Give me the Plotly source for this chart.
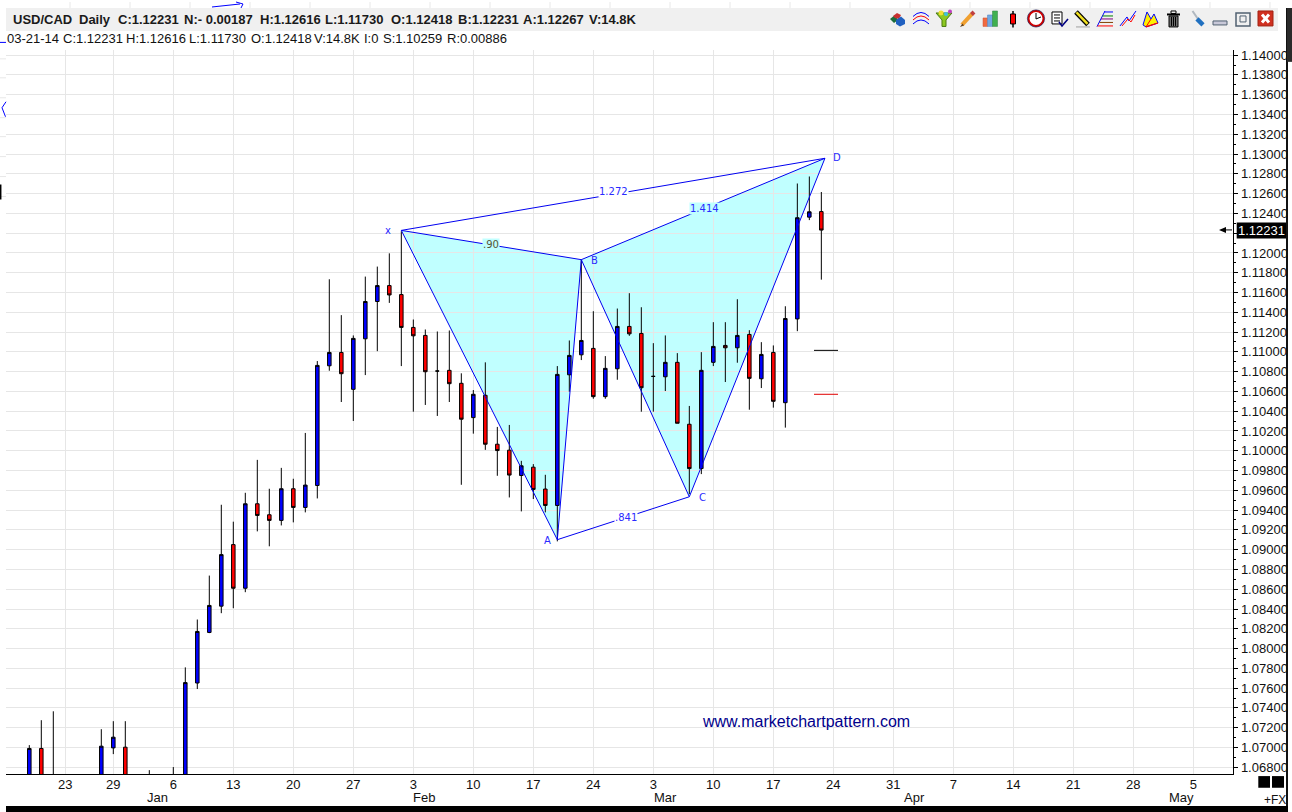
import plotly.graph_objects as go

# ---------- candles (one entry per bar slot on the chart) ----------
bar_index = [0,1,2,6,7,8,10,12,13,14,15,16,17,18,19,20,21,22,23,24,25,26,27,28,29,30,31,32,33,34,35,36,37,38,39,40,41,42,43,44,45,46,47,48,49,50,51,52,53,54,55,56,57,58,59,60,61,62,63,64,65,66]
opens = [1.0660,1.06990,1.0665,1.0660,1.06996,1.07003,1.0660,1.0660,1.0660,1.07652,1.08163,1.08429,1.09051,1.0861,1.09464,1.09353,1.09296,1.09616,1.09427,1.09649,1.10859,1.10994,1.10621,1.11132,1.11509,1.1167,1.11579,1.11247,1.11166,1.10806,1.10813,1.10682,1.10335,1.10561,1.10066,1.10006,1.0975,1.09834,1.09613,1.09447,1.10768,1.1097,1.11035,1.10547,1.10829,1.11257,1.11186,1.10752,1.10748,1.10894,1.10268,1.0982,1.10894,1.11065,1.11041,1.11176,1.10728,1.10994,1.10486,1.11333,1.12362,1.12418]
highs = [1.07024,1.07276,1.07366,1.07185,1.07266,1.07266,1.06771,1.06802,1.0781,1.08294,1.08738,1.09454,1.09283,1.09575,1.09908,1.09616,1.09827,1.09717,1.1018,1.10907,1.11734,1.11371,1.11166,1.11761,1.11862,1.11996,1.12218,1.11327,1.11226,1.11206,1.11216,1.10783,1.10614,1.10894,1.10241,1.10261,1.09898,1.09865,1.09757,1.10856,1.11115,1.11932,1.11411,1.10957,1.11438,1.11593,1.11451,1.11088,1.11166,1.10987,1.10453,1.10997,1.113,1.113,1.11532,1.11219,1.11098,1.11065,1.11461,1.12702,1.12773,1.12616]
lows = [1.0650,1.0650,1.0655,1.0650,1.06933,1.0650,1.0650,1.0650,1.0650,1.07591,1.08156,1.08358,1.08408,1.0857,1.09185,1.09034,1.09245,1.09276,1.09377,1.09518,1.10809,1.10493,1.10301,1.10765,1.11007,1.11495,1.10856,1.10395,1.10463,1.10352,1.10493,1.09656,1.10173,1.10009,1.09747,1.09528,1.09387,1.09512,1.09377,1.09084,1.10597,1.10917,1.10526,1.10526,1.10718,1.11162,1.10395,1.10395,1.10604,1.10278,1.09562,1.09764,1.10856,1.10695,1.1089,1.10415,1.10634,1.10436,1.10234,1.11209,1.12332,1.1173]
closes = [1.06990,1.0660,1.0660,1.07013,1.07104,1.0660,1.0655,1.0655,1.07656,1.08173,1.08436,1.0895,1.0861,1.09464,1.09346,1.09296,1.09616,1.09427,1.09653,1.10863,1.10994,1.10779,1.11136,1.11509,1.1167,1.11575,1.11247,1.11162,1.10799,1.10806,1.10678,1.10319,1.10571,1.10066,1.10002,1.09754,1.09848,1.09609,1.09447,1.10772,1.10964,1.11115,1.10547,1.10833,1.11257,1.11182,1.10637,1.10752,1.10894,1.10278,1.0982,1.10813,1.11055,1.11041,1.11166,1.10732,1.10974,1.105,1.11337,1.12356,1.12416,1.12231]

# ---------- harmonic pattern ----------
pattern_names = ["X","A","B","C","D"]
pattern_x = [31,44,46,55,66.3]
pattern_y = [1.12228,1.09101,1.11932,1.09535,1.12957]
ratio_labels = ["1.272",".90","1.414",".841"]
ratio_x = [48.64,38.5,56.3,49.7]
ratio_y = [1.1262,1.12087,1.1245,1.09323]
ratio_bg = ["#ffffff","#c0ffff","#c0ffff","#ffffff"]
ratio_col = ["#2a2aff","#555533","#2a2aff","#2a2aff"]
point_labels = ["x","A","B","C","D"]
point_label_x = [29.9,43.2,47.1,56.1,67.3]
point_label_y = [1.1223,1.0909,1.1192,1.0953,1.12965]

# ---------- levels ----------
level_x = [65.39,67.39]
level_black = 1.11015
level_red = 1.10571

# ---------- axes ----------
x_tick_pos = [3,7,12,17,22,27,32,37,42,47,52,57,62,67,72,77,82,87,92,97]
x_tick_text = ["23","29","6","13","20","27","3","10","17","24","3","10","17","24","31","7","14","21","28","5"]
month_pos = [10.7,32.9,53.0,73.8,96.0]
month_text = ["Jan","Feb","Mar","Apr","May"]
y_tick_pos = [1.14,1.138,1.136,1.134,1.132,1.13,1.128,1.126,1.124,1.122,1.12,1.118,1.116,1.114,1.112,1.11,1.108,1.106,1.104,1.102,1.10,1.098,1.096,1.094,1.092,1.09,1.088,1.086,1.084,1.082,1.08,1.078,1.076,1.074,1.072,1.07,1.068]
y_tick_text = ["1.14000","1.13800","1.13600","1.13400","1.13200","1.13000","1.12800","1.12600","1.12400","","1.12000","1.11800","1.11600","1.11400","1.11200","1.11000","1.10800","1.10600","1.10400","1.10200","1.10000","1.09800","1.09600","1.09400","1.09200","1.09000","1.08800","1.08600","1.08400","1.08200","1.08000","1.07800","1.07600","1.07400","1.07200","1.07000","1.06800"]
last_close = 1.12231

header_x = [11,77,116,182,258,323,389,456,521,587]
header_text = ["USD/CAD","Daily","C:1.12231","N:- 0.00187","H:1.12616","L:1.11730","O:1.12418","B:1.12231","A:1.12267","V:14.8K"]
info_x = [5,61,124,187,249,312,362,381,445]
info_text = ["03-21-14","C:1.12231","H:1.12616","L:1.11730","O:1.12418","V:14.8K","I:0","S:1.10259","R:0.00886"]

W, H = 1292, 812
FONT = "Liberation Sans, Arial, sans-serif"
px = lambda v: v / W
py = lambda v: 1 - v / H

shapes = []
def R(x0, y0, x1, y1, fill=None, line=None, w=1):
    shapes.append(dict(type="rect", xref="paper", yref="paper", x0=px(x0), x1=px(x1), y0=py(y0), y1=py(y1),
                       fillcolor=fill or "rgba(0,0,0,0)", line=dict(color=line or "rgba(0,0,0,0)", width=w if line else 0)))
def L(pts, color="rgba(0,0,0,0)", w=1, fill=None):
    d = "M" + " L".join(f"{px(a):.5f},{py(b):.5f}" for a, b in pts)
    if fill:
        d += " Z"
    shapes.append(dict(type="path", xref="paper", yref="paper", path=d, fillcolor=fill or "rgba(0,0,0,0)",
                       line=dict(color=color, width=w if color != "rgba(0,0,0,0)" else 0)))
def C(cx, cy, r, fill=None, line=None, w=1):
    shapes.append(dict(type="circle", xref="paper", yref="paper", x0=px(cx-r), x1=px(cx+r), y0=py(cy+r), y1=py(cy-r),
                       fillcolor=fill or "rgba(0,0,0,0)", line=dict(color=line or "rgba(0,0,0,0)", width=w if line else 0)))

# pattern fills sit beneath the candles
def fill_path(i, j, k):
    return (f"M{pattern_x[i]},{pattern_y[i]} L{pattern_x[j]},{pattern_y[j]} L{pattern_x[k]},{pattern_y[k]} Z")
for tri in [(0,1,2),(2,3,4)]:
    shapes.append(dict(type="path", xref="x", yref="y", layer="below", path=fill_path(*tri),
                       fillcolor="#c0ffff", line=dict(width=0)))

# window chrome
R(6, 6, 1278, 29, fill="#f0f0f0")
R(1286, 6, 1288, 812, fill="#111111")
R(1287, 6, 1292, 60, fill="#2a2a2a")
R(6, 806, 1288, 812, fill="#000000")
R(1258.3, 776, 1270, 787.7, fill="#000000")
R(1272, 776, 1284, 787.7, fill="#000000")

# clipped remains at the edges
for yy in [57, 76, 96, 116, 135, 155, 175, 195]:
    L([(0, yy), (6, yy)], "#e8e8e8", 1)
for xx in [70, 130, 190, 250, 310, 370, 430, 490, 550, 610, 670, 730, 790, 850, 910, 970, 1030, 1090, 1150, 1210, 1270]:
    L([(xx, 0), (xx, 6)], "#e8e8e8", 1)
L([(212, 5), (240, 2)], "#0000ff", 1)
L([(236, 0), (243, 2), (241, 6)], "#0000ff", 1)
L([(0, 40.5), (6, 40.5)], "#0000ff", 1)
L([(6, 100), (2, 106), (5.5, 115)], "#0000ff", 1)
L([(0.7, 183), (0.7, 198)], "#000000", 1.5)

# toolbar icons
L([(890,17),(895,13),(898,18),(894,21)], fill="#1c6e3c")
L([(893,14),(897,11),(901,13),(899,17),(895,16)], fill="#c83030")
L([(896,18),(901,14.5),(905,18),(905,22),(900,24.5),(896,22)], fill="#2060c0")
for base, colr in [(14.5,"#0000ff"),(18,"#ff0000"),(22,"#0000ff")]:
    L([(913,base),(917,base-3),(921,base-4),(925,base-3),(929,base)], colr, 1)
L([(936,11),(952,11),(946,18),(946,24.5),(942,24.5),(942,18)], "#4a7a10", 1, "#8cc820")
C(941,11,2.5,fill="#f0e030"); C(946,12,2,fill="#40c0e0"); C(950,9.5,2,fill="#c040c0")
L([(962,23),(972,12)], "#f0a030", 4)
L([(971.5,12.5),(974,10)], "#c04040", 4)
L([(960,25),(962.5,21.5),(964,23.5)], fill="#604020")
R(983,16,987.5,24.5,fill="#f06a40",line="#d05030",w=0.5)
R(987.5,13,992.5,24.5,fill="#70a8e0",line="#5080c0",w=0.5)
R(992.5,9,997.5,24.5,fill="#40b050",line="#308040",w=0.5)
L([(1013,9),(1013,25.5)], "#000000", 1.5)
R(1010.5,12,1015.5,22,fill="#ff0000",line="#000000",w=1)
C(1036,16.5,7.5,fill="#ffffff",line="#d00000",w=2)
C(1036,16.5,8.6,line="#000040",w=0.6)
L([(1036,11),(1036,17),(1041,15)], "#000000", 1)
R(1052,10,1062,22,fill="#ffffff",line="#000000",w=1)
for yy in [13,16,19]:
    L([(1054,yy),(1060,yy)], "#000000", 1)
L([(1059,20),(1062,24),(1068,17)], "#000080", 1.6)
L([(1076,10),(1088,22.5)], "#000000", 5)
L([(1076.5,10.5),(1087.5,22)], "#f0e020", 2.5)
L([(1076,25),(1090,25)], "#a0a0a0", 1)
L([(1097,24.7),(1105,9)], "#0000ff", 1)
for yy, xs, colr in [(10,1104.5,"#0000ff"),(14,1102.5,"#008000"),(17,1101,"#800080"),(20.5,1099.5,"#804000"),(24,1097.5,"#ff0000")]:
    L([(xs,yy),(1113,yy)], colr, 1)
L([(1120,24),(1127,15),(1129,19),(1136,9)], "#0000ff", 1)
L([(1122,24),(1128,17),(1131,20),(1135,13)], "#ff0000", 1)
L([(1143,23),(1147,10),(1151,17),(1154,12),(1158,21),(1146,25)], "#0000ff", 1, "#fff000")
L([(1146,25),(1158,21)], "#ff0000", 1.2)
L([(1151,17),(1146,25)], "#ff0000", 1)
R(1169,14,1178,25,fill="#707070",line="#000000",w=1)
for xx in [1171.5,1173.5,1175.5]:
    L([(xx,15),(xx,24)], "#000000", 1)
R(1167,11.5,1180,13.5,fill="#000000")
R(1171,9,1176,11.5,line="#000000",w=1)
L([(1192.5,9),(1198,17)], "#b0b8c0", 2)
L([(1197,17),(1203,23)], "#2070c0", 4.5)
R(1213,19,1227,23,fill="#c8c8d8",line="#506070",w=1)
R(1236,11,1250,24,line="#506070",w=1.5)
R(1240,14,1246,20,line="#506070",w=1)
R(1258,9,1273,24,fill="#d03020",line="#a02010",w=1)
L([(1262,12.5),(1269,20.5)], "#ffffff", 3)
L([(1269,12.5),(1262,20.5)], "#ffffff", 3)

# last-price flag and arrow
R(1236.7, 221, 1286, 237, fill="#000000")
L([(1219,228.5),(1226,225.5),(1226,231.5)], fill="#000000")
L([(1224,228.5),(1232,228.5)], "#000000", 1)

fig = go.Figure()
fig.add_trace(go.Candlestick(
    x=bar_index, open=opens, high=highs, low=lows, close=closes,
    increasing=dict(fillcolor="#0000ff", line=dict(color="#000000", width=1)),
    decreasing=dict(fillcolor="#ff0000", line=dict(color="#000000", width=1)),
    whiskerwidth=0, showlegend=False, hoverinfo="skip"))

def line_between(i, j):
    fig.add_trace(go.Scatter(x=[pattern_x[i], pattern_x[j]], y=[pattern_y[i], pattern_y[j]], mode="lines",
                             line=dict(color="#0000f0", width=1), showlegend=False, hoverinfo="skip"))
for a, b in [(0,1),(1,2),(2,3),(3,4),(0,2),(2,4),(1,3),(0,4)]:
    line_between(a, b)

fig.add_trace(go.Scatter(x=level_x, y=[level_black]*2, mode="lines", line=dict(color="#000000", width=1),
                         showlegend=False, hoverinfo="skip"))
fig.add_trace(go.Scatter(x=level_x, y=[level_red]*2, mode="lines", line=dict(color="#e00000", width=1),
                         showlegend=False, hoverinfo="skip"))

ann = []
for xx, tt in zip(header_x, header_text):
    ann.append(dict(xref="paper", yref="paper", x=px(xx), y=py(17.5), text=f"<b>{tt}</b>", showarrow=False,
                    xanchor="left", yanchor="middle", font=dict(family=FONT, size=13, color="#1a1a1a")))
for xx, tt in zip(info_x, info_text):
    ann.append(dict(xref="paper", yref="paper", x=px(xx), y=py(36.5), text=tt, showarrow=False,
                    xanchor="left", yanchor="middle", font=dict(family=FONT, size=13, color="#111111")))
for xx, tt, yy, bg, col in zip(ratio_x, ratio_labels, ratio_y, ratio_bg, ratio_col):
    ann.append(dict(xref="x", yref="y", x=xx, y=yy, text=tt, showarrow=False, bgcolor=bg, borderpad=0,
                    font=dict(family="DejaVu Sans", size=10, color=col)))
for xx, tt, yy in zip(point_label_x, point_labels, point_label_y):
    ann.append(dict(xref="x", yref="y", x=xx, y=yy, text=tt, showarrow=False,
                    font=dict(family="DejaVu Sans", size=10, color="#2a2aff")))
for xx, tt in zip(month_pos, month_text):
    ann.append(dict(xref="x", yref="paper", x=xx, y=py(797.5), text=tt, showarrow=False, yanchor="middle",
                    font=dict(family=FONT, size=13, color="#111111")))
ann.append(dict(xref="paper", yref="y", x=px(1261), y=last_close, text=f"{last_close:.5f}", showarrow=False,
                xanchor="center", font=dict(family=FONT, size=13, color="#ffffff")))
ann.append(dict(xref="paper", yref="paper", x=px(805.5), y=py(721), text="www.marketchartpattern.com", showarrow=False,
                xanchor="center", yanchor="middle", font=dict(family=FONT, size=16, color="#00008b")))
ann.append(dict(xref="paper", yref="paper", x=px(1275), y=py(800), text="+FX", showarrow=False,
                xanchor="center", yanchor="middle", font=dict(family=FONT, size=12, color="#111111")))

fig.update_layout(
    width=W, height=H, margin=dict(l=0, r=0, t=0, b=0), paper_bgcolor="#ffffff", plot_bgcolor="#ffffff",
    showlegend=False, boxgap=0.58, boxmode="overlay", shapes=shapes, annotations=ann,
    xaxis=dict(domain=[px(6), px(1233.3)], range=[-1.942, 100.33], rangeslider=dict(visible=False),
               tickmode="array", tickvals=x_tick_pos, ticktext=x_tick_text, ticks="", showgrid=True,
               gridcolor="#e6e6e6", gridwidth=1, zeroline=False, showline=True, linecolor="#000000", linewidth=1,
               ticklabelstandoff=-2, tickfont=dict(family=FONT, size=13, color="#111111")),
    yaxis=dict(domain=[py(774.3), py(47.7)], range=[1.06728, 1.14056], side="right",
               tickmode="array", tickvals=y_tick_pos, ticktext=y_tick_text,
               ticks="outside", ticklen=4, tickcolor="#000000", showgrid=True,
               gridcolor="#e6e6e6", gridwidth=1, zeroline=False, showline=True, linecolor="#000000", linewidth=1,
               minor=dict(tick0=1.14, dtick=0.001, ticks="outside", ticklen=2, tickcolor="#000000", showgrid=False),
               tickfont=dict(family=FONT, size=13, color="#111111")),
)

fig.write_html("out.html", config=dict(displayModeBar=False),
               post_script="document.body.style.margin='0';document.body.style.overflow='hidden';")
